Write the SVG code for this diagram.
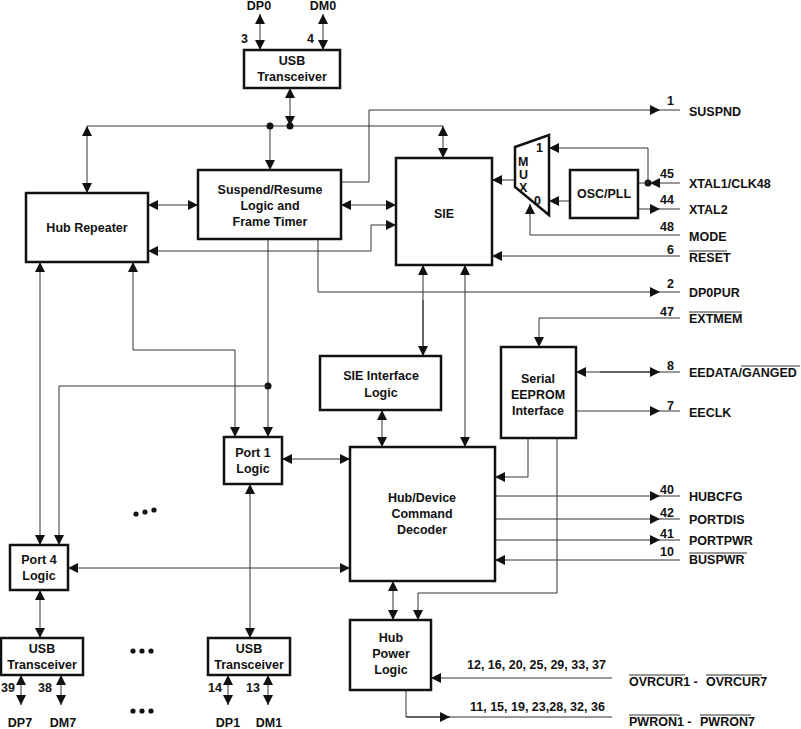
<svg xmlns="http://www.w3.org/2000/svg" width="801" height="729" viewBox="0 0 801 729">
<defs>
<marker id="a" viewBox="0 0 10 10" refX="10" refY="5" markerWidth="10" markerHeight="10" markerUnits="userSpaceOnUse" orient="auto-start-reverse"><path d="M0,0L10,5L0,10z" fill="#111"/></marker>
</defs>
<style>
text{font-family:"Liberation Sans",Arial,sans-serif;font-weight:bold;font-size:12.5px;fill:#111}
.c{text-anchor:middle}
.b{fill:#fff;stroke:#111;stroke-width:2.5}
.l{fill:none;stroke:#333;stroke-width:1}
.e{marker-end:url(#a)}
.s{marker-start:url(#a)}
.d{fill:#111}
</style>
<rect width="801" height="729" fill="#fff"/>
<g id="connectors">
<path class="l s e" d="M260,14V50"/><path class="l s e" d="M323,14V50"/>
<path class="l s e" d="M290,88V126"/>
<path class="l" d="M87,126H443"/>
<path class="l s e" d="M87,126V193"/>
<path class="l e" d="M270,126V170"/>
<path class="l s e" d="M443,126V158"/>
<circle class="d" cx="270" cy="126" r="3.5"/><circle class="d" cx="290" cy="126" r="3.5"/>
<path class="l s e" d="M148,205H198"/>
<path class="l s e" d="M341,205H396"/>
<path class="l e" d="M341,182H369V110H660"/>
<path class="l s" d="M148,251H371V225"/>
<path class="l e" d="M371,225H396"/>
<path class="l e" d="M318,239V292H660"/>
<path class="l e" d="M268,239V437"/>
<circle class="d" cx="268" cy="386" r="3.5"/>
<path class="l e" d="M268,386H59V545"/>
<path class="l s e" d="M40,262V545"/>
<path class="l s" d="M133,262V350H235"/>
<path class="l e" d="M235,350V437"/>
<path class="l s" d="M423,265V350"/>
<path class="l e" d="M423,300V356"/>
<path class="l s e" d="M465,265V447"/>
<path class="l s e" d="M382,410V447"/>
<path class="l s e" d="M282,459H350"/>
<path class="l s e" d="M68,568H350"/>
<path class="l s e" d="M40,590V638"/>
<path class="l s e" d="M250,484V638"/>
<path class="l s e" d="M21,675V705"/><path class="l s e" d="M61,675V705"/>
<path class="l s e" d="M228,675V705"/><path class="l s e" d="M268,675V705"/>
<path class="l e" d="M680,318H539V347"/>
<path class="l s" d="M576,372H660"/><path class="l e" d="M600,372H660"/>
<path class="l e" d="M576,411H660"/>
<path class="l e" d="M528,438V477H495"/>
<path class="l e" d="M557,438V593H418V620"/>
<path class="l s e" d="M393,581V620"/>
<path class="l e" d="M495,496H660"/>
<path class="l e" d="M495,519H660"/>
<path class="l e" d="M495,540H660"/>
<path class="l e" d="M680,560H495"/>
<path class="l e" d="M612,678H431"/>
<path class="l" d="M406,690V717H612"/><path class="l e" d="M406,717H450"/>
<path class="l e" d="M515,180H492"/>
<path class="l e" d="M530,235V204"/><path class="l" d="M530,235H680"/>
<path class="l e" d="M680,183H650"/>
<circle class="d" cx="648" cy="183" r="3.5"/>
<path class="l" d="M648,183H638"/>
<path class="l e" d="M648,183V148H549"/>
<path class="l e" d="M570,201H549"/>
<path class="l e" d="M638,209H660"/><path class="l" d="M660,209H680"/>
<path class="l e" d="M680,256H492"/>
<path class="l" d="M660,110H680M660,292H680M660,372H680M660,411H680M660,496H680M660,519H680M660,540H680"/>
</g>
<g id="usb0"><rect class="b" x="244" y="50" width="96" height="38"/><text class="c" x="292" y="65">USB</text><text class="c" x="292" y="81">Transceiver</text></g>
<g id="hubrep"><rect class="b" x="26" y="193" width="122" height="69"/><text class="c" x="87" y="232">Hub Repeater</text></g>
<g id="suspend"><rect class="b" x="198" y="170" width="143" height="69"/><text class="c" x="270" y="194">Suspend/Resume</text><text class="c" x="270" y="210">Logic and</text><text class="c" x="270" y="226">Frame Timer</text></g>
<g id="sie"><rect class="b" x="396" y="158" width="96" height="107"/><text class="c" x="444" y="218">SIE</text></g>
<g id="mux"><polygon class="b" points="515,147 549,135 549,215 515,187"/><text x="518" y="166">M</text><text x="519" y="179">U</text><text x="519" y="192">X</text><text x="536" y="152">1</text><text x="534" y="205">0</text></g>
<g id="osc"><rect class="b" x="570" y="170" width="68" height="48"/><text class="c" x="604" y="198">OSC/PLL</text></g>
<g id="sieif"><rect class="b" x="320" y="356" width="121" height="54"/><text class="c" x="381" y="380">SIE Interface</text><text class="c" x="381" y="397">Logic</text></g>
<g id="eeprom"><rect class="b" x="501" y="347" width="75" height="91"/><text class="c" x="538" y="383">Serial</text><text class="c" x="538" y="399">EEPROM</text><text class="c" x="538" y="415">Interface</text></g>
<g id="port1"><rect class="b" x="224" y="437" width="58" height="47"/><text class="c" x="253" y="457">Port 1</text><text class="c" x="253" y="473">Logic</text></g>
<g id="decoder"><rect class="b" x="350" y="447" width="145" height="134"/><text class="c" x="422" y="502">Hub/Device</text><text class="c" x="422" y="518">Command</text><text class="c" x="422" y="534">Decoder</text></g>
<g id="port4"><rect class="b" x="10" y="545" width="58" height="45"/><text class="c" x="39" y="564">Port 4</text><text class="c" x="39" y="580">Logic</text></g>
<g id="power"><rect class="b" x="350" y="620" width="81" height="70"/><text class="c" x="391" y="642">Hub</text><text class="c" x="391" y="658">Power</text><text class="c" x="391" y="674">Logic</text></g>
<g id="usb7"><rect class="b" x="1" y="638" width="82" height="37"/><text class="c" x="42" y="653">USB</text><text class="c" x="42" y="669">Transceiver</text></g>
<g id="usb1"><rect class="b" x="208" y="638" width="82" height="37"/><text class="c" x="249" y="653">USB</text><text class="c" x="249" y="669">Transceiver</text></g>
<g id="labels">
<text class="c" x="259" y="10">DP0</text><text class="c" x="323" y="10">DM0</text>
<text x="241" y="43">3</text><text x="307" y="43">4</text>
<text x="667" y="105">1</text><text x="689" y="116">SUSPND</text>
<text x="660" y="178">45</text><text x="689" y="188">XTAL1/CLK48</text>
<text x="660" y="204">44</text><text x="689" y="214">XTAL2</text>
<text x="660" y="231">48</text><text x="689" y="241">MODE</text>
<text x="667" y="254">6</text><text x="689" y="262">RESET</text><path class="l" d="M689,251H727"/>
<text x="667" y="288">2</text><text x="689" y="297">DP0PUR</text>
<text x="660" y="316">47</text><text x="689" y="323">EXTMEM</text><path class="l" d="M689,312H742"/>
<text x="667" y="370">8</text><text x="689" y="377">EEDATA/GANGED</text><path class="l" d="M741,366H800"/>
<text x="667" y="410">7</text><text x="689" y="417">EECLK</text>
<text x="660" y="494">40</text><text x="689" y="501">HUBCFG</text>
<text x="660" y="517">42</text><text x="689" y="524">PORTDIS</text>
<text x="660" y="538">41</text><text x="689" y="545">PORTPWR</text>
<text x="660" y="556">10</text><text x="689" y="564">BUSPWR</text><path class="l" d="M689,553H747"/>
<text x="467" y="669">12, 16, 20, 25, 29, 33, 37</text>
<text x="629" y="686">OVRCUR1 -</text><text x="706" y="686">OVRCUR7</text><path class="l" d="M629,675H685M706,675H762"/>
<text x="470" y="711">11, 15, 19, 23,28, 32, 36</text>
<text x="629" y="726">PWRON1 -</text><text x="700" y="726">PWRON7</text><path class="l" d="M629,715H680M700,715H751"/>
<text x="1" y="692">39</text><text x="38" y="692">38</text>
<text x="208" y="692">14</text><text x="246" y="692">13</text>
<text class="c" x="20" y="727">DP7</text><text class="c" x="63" y="727">DM7</text>
<text class="c" x="228" y="727">DP1</text><text class="c" x="269" y="727">DM1</text>
</g>
<g id="ellipses" class="d">
<circle cx="136" cy="514" r="2.6"/><circle cx="145" cy="512" r="2.6"/><circle cx="154" cy="510" r="2.6"/>
<circle cx="133" cy="651" r="2.6"/><circle cx="142" cy="651" r="2.6"/><circle cx="151" cy="651" r="2.6"/>
<circle cx="133" cy="711" r="2.6"/><circle cx="142" cy="711" r="2.6"/><circle cx="151" cy="711" r="2.6"/>
</g>
</svg>
